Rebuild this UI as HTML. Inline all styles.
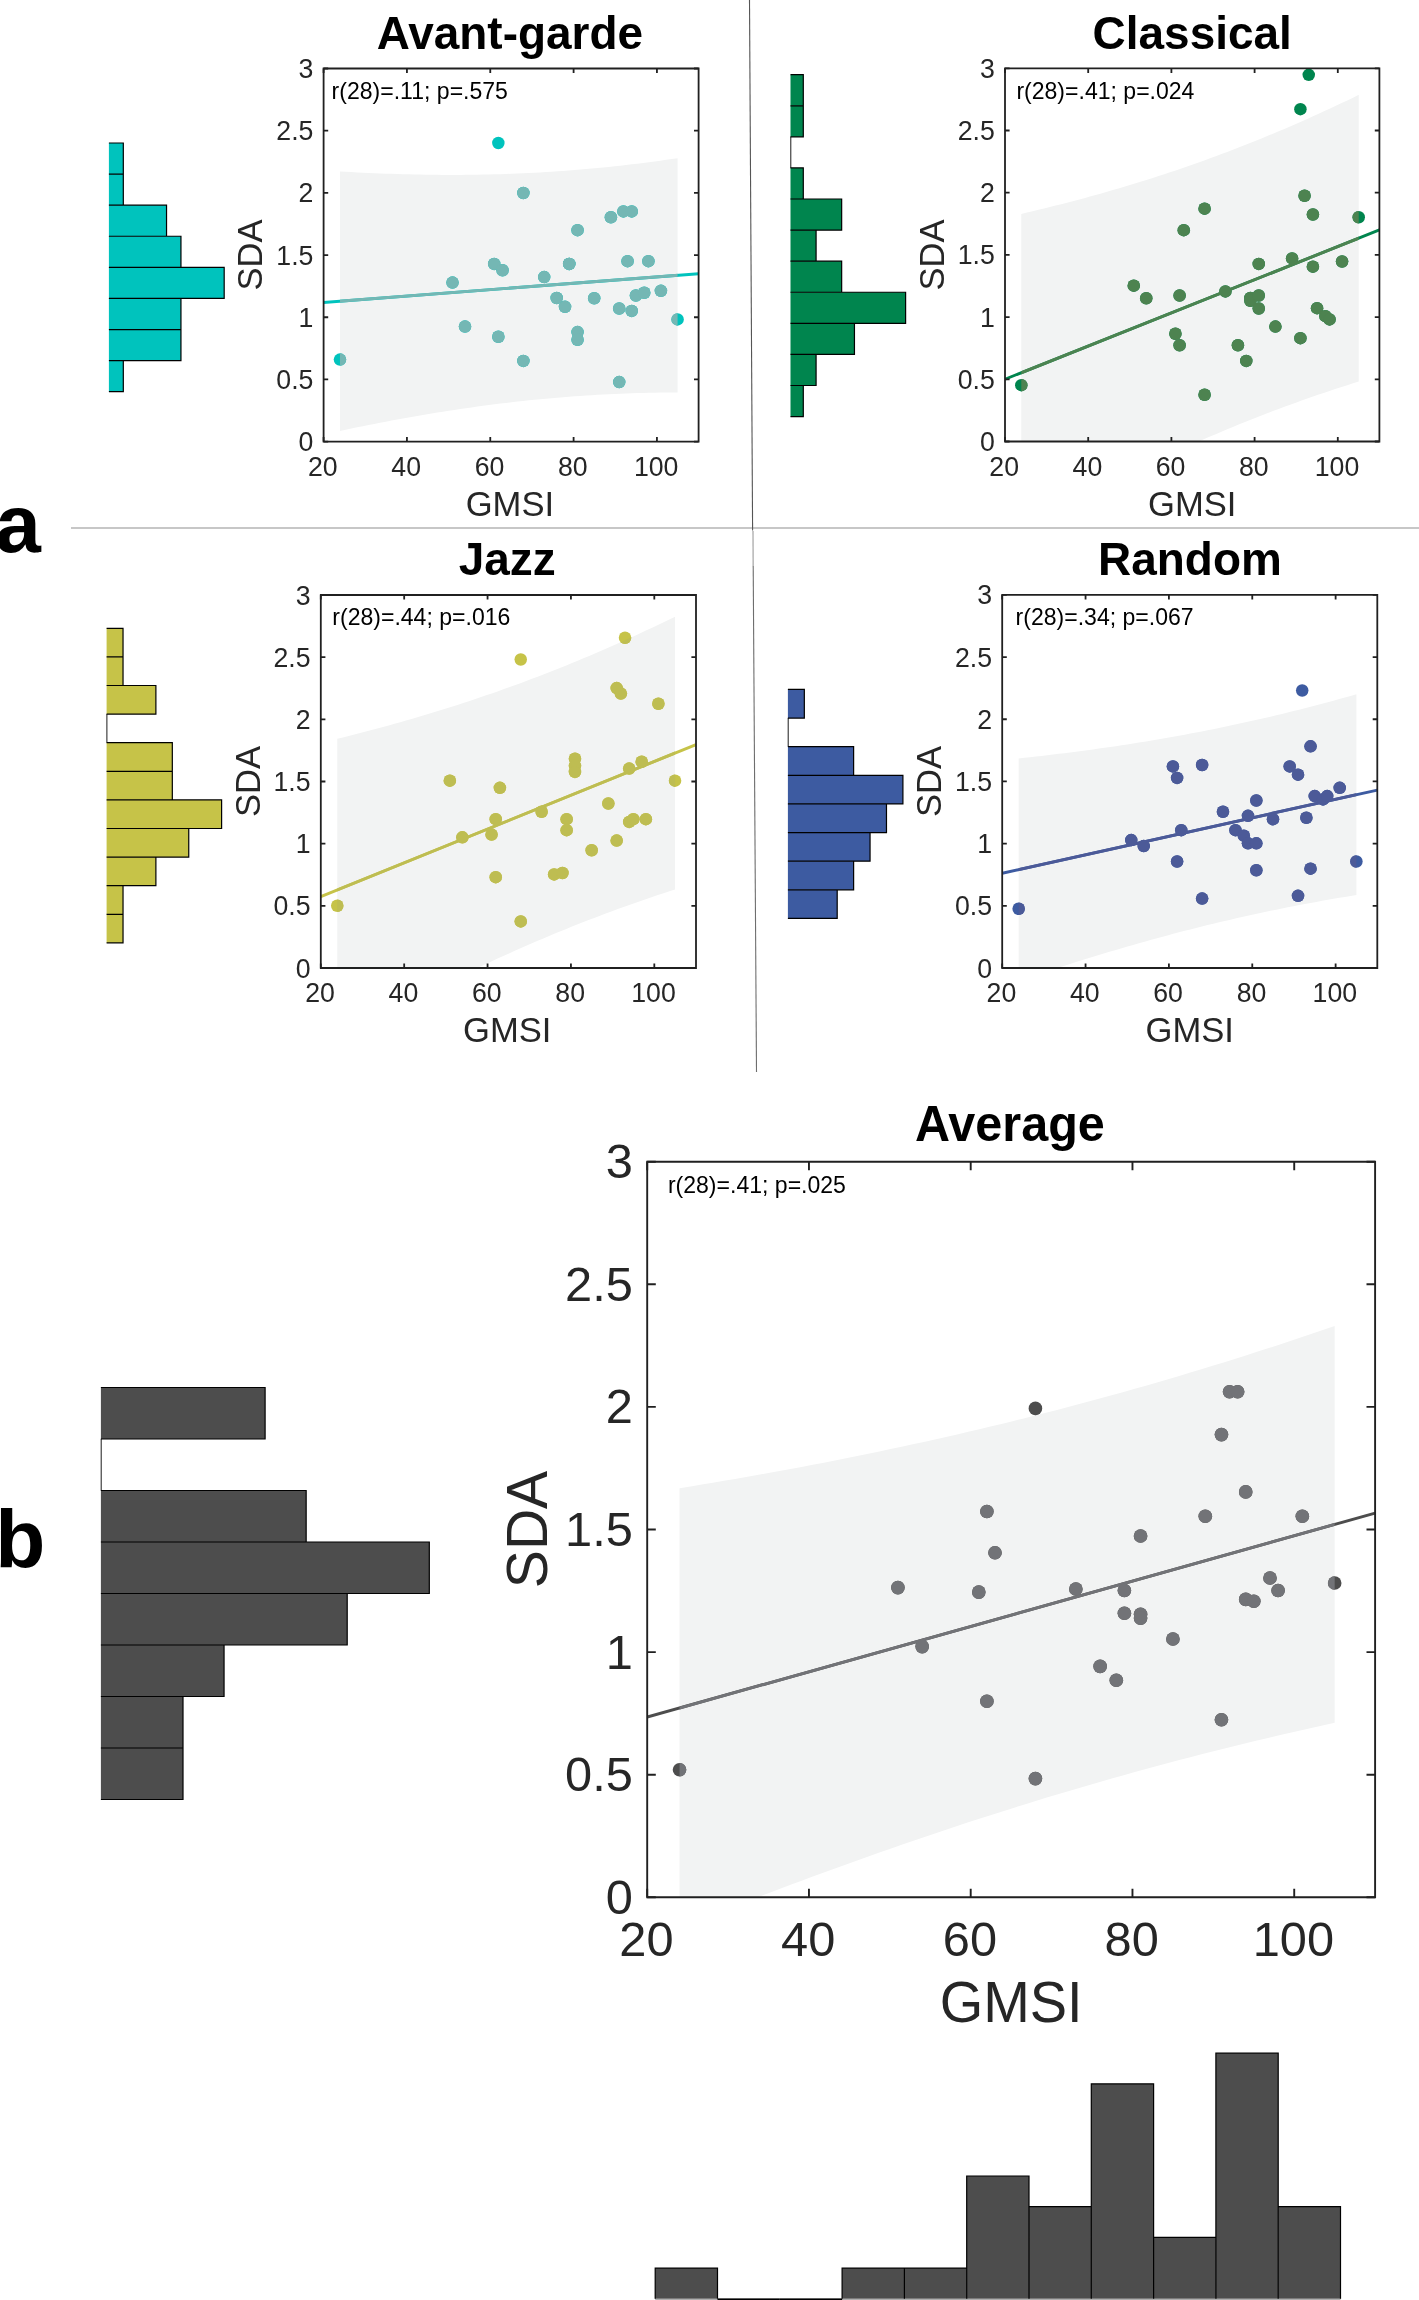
<!DOCTYPE html>
<html><head><meta charset="utf-8"><title>Figure</title>
<style>html,body{margin:0;padding:0;background:#fff;}svg{display:block;font-family:"Liberation Sans",sans-serif;will-change:transform;}</style>
</head><body>
<svg width="1419" height="2300" viewBox="0 0 1419 2300" font-family="Liberation Sans, sans-serif">
<rect width="1419" height="2300" fill="#fff"/>
<line x1="71" y1="528" x2="1419" y2="528" stroke="#b5b5b5" stroke-width="1.7"/>
<line x1="749.5" y1="0" x2="752.6" y2="530.5" stroke="#555" stroke-width="1.1"/>
<line x1="753" y1="531" x2="753.2" y2="566" stroke="#bbbbbb" stroke-width="1.6"/>
<line x1="753.2" y1="566" x2="756.5" y2="1072" stroke="#6e6e6e" stroke-width="1.1"/>
<text transform="translate(-4.7,551.9)" font-size="82" font-weight="bold" fill="#000">a</text>
<text transform="translate(-4.7,1567.3)" font-size="82" font-weight="bold" fill="#000">b</text>
<clipPath id="c1"><rect x="323.6" y="68.5" width="375" height="373.1"/></clipPath>
<clipPath id="b1"><path d="M339.96,171.43 L345.68,171.76 L351.41,172.08 L357.13,172.38 L362.85,172.67 L368.57,172.94 L374.30,173.19 L380.02,173.43 L385.74,173.65 L391.46,173.86 L397.19,174.04 L402.91,174.21 L408.63,174.37 L414.35,174.50 L420.07,174.62 L425.80,174.71 L431.52,174.79 L437.24,174.85 L442.96,174.89 L448.69,174.91 L454.41,174.91 L460.13,174.89 L465.85,174.86 L471.58,174.80 L477.30,174.72 L483.02,174.62 L488.74,174.49 L494.47,174.35 L500.19,174.19 L505.91,174.00 L511.63,173.79 L517.35,173.56 L523.08,173.31 L528.80,173.04 L534.52,172.75 L540.24,172.43 L545.97,172.09 L551.69,171.73 L557.41,171.35 L563.13,170.94 L568.86,170.51 L574.58,170.06 L580.30,169.59 L586.02,169.09 L591.75,168.58 L597.47,168.04 L603.19,167.47 L608.91,166.89 L614.63,166.28 L620.36,165.66 L626.08,165.01 L631.80,164.34 L637.52,163.64 L643.25,162.93 L648.97,162.19 L654.69,161.43 L660.41,160.66 L666.14,159.86 L671.86,159.04 L677.58,158.20 L677.58,392.40 L671.86,392.44 L666.14,392.49 L660.41,392.57 L654.69,392.67 L648.97,392.79 L643.25,392.93 L637.52,393.10 L631.80,393.28 L626.08,393.49 L620.36,393.71 L614.63,393.96 L608.91,394.23 L603.19,394.53 L597.47,394.84 L591.75,395.18 L586.02,395.54 L580.30,395.92 L574.58,396.33 L568.86,396.75 L563.13,397.20 L557.41,397.67 L551.69,398.17 L545.97,398.68 L540.24,399.22 L534.52,399.78 L528.80,400.36 L523.08,400.97 L517.35,401.59 L511.63,402.24 L505.91,402.91 L500.19,403.60 L494.47,404.32 L488.74,405.05 L483.02,405.81 L477.30,406.58 L471.58,407.38 L465.85,408.20 L460.13,409.04 L454.41,409.89 L448.69,410.77 L442.96,411.67 L437.24,412.59 L431.52,413.52 L425.80,414.48 L420.07,415.45 L414.35,416.45 L408.63,417.46 L402.91,418.49 L397.19,419.53 L391.46,420.60 L385.74,421.68 L380.02,422.78 L374.30,423.89 L368.57,425.03 L362.85,426.17 L357.13,427.34 L351.41,428.52 L345.68,429.71 L339.96,430.92 Z"/></clipPath>
<g clip-path="url(#c1)">
<path d="M339.96,171.43 L345.68,171.76 L351.41,172.08 L357.13,172.38 L362.85,172.67 L368.57,172.94 L374.30,173.19 L380.02,173.43 L385.74,173.65 L391.46,173.86 L397.19,174.04 L402.91,174.21 L408.63,174.37 L414.35,174.50 L420.07,174.62 L425.80,174.71 L431.52,174.79 L437.24,174.85 L442.96,174.89 L448.69,174.91 L454.41,174.91 L460.13,174.89 L465.85,174.86 L471.58,174.80 L477.30,174.72 L483.02,174.62 L488.74,174.49 L494.47,174.35 L500.19,174.19 L505.91,174.00 L511.63,173.79 L517.35,173.56 L523.08,173.31 L528.80,173.04 L534.52,172.75 L540.24,172.43 L545.97,172.09 L551.69,171.73 L557.41,171.35 L563.13,170.94 L568.86,170.51 L574.58,170.06 L580.30,169.59 L586.02,169.09 L591.75,168.58 L597.47,168.04 L603.19,167.47 L608.91,166.89 L614.63,166.28 L620.36,165.66 L626.08,165.01 L631.80,164.34 L637.52,163.64 L643.25,162.93 L648.97,162.19 L654.69,161.43 L660.41,160.66 L666.14,159.86 L671.86,159.04 L677.58,158.20 L677.58,392.40 L671.86,392.44 L666.14,392.49 L660.41,392.57 L654.69,392.67 L648.97,392.79 L643.25,392.93 L637.52,393.10 L631.80,393.28 L626.08,393.49 L620.36,393.71 L614.63,393.96 L608.91,394.23 L603.19,394.53 L597.47,394.84 L591.75,395.18 L586.02,395.54 L580.30,395.92 L574.58,396.33 L568.86,396.75 L563.13,397.20 L557.41,397.67 L551.69,398.17 L545.97,398.68 L540.24,399.22 L534.52,399.78 L528.80,400.36 L523.08,400.97 L517.35,401.59 L511.63,402.24 L505.91,402.91 L500.19,403.60 L494.47,404.32 L488.74,405.05 L483.02,405.81 L477.30,406.58 L471.58,407.38 L465.85,408.20 L460.13,409.04 L454.41,409.89 L448.69,410.77 L442.96,411.67 L437.24,412.59 L431.52,413.52 L425.80,414.48 L420.07,415.45 L414.35,416.45 L408.63,417.46 L402.91,418.49 L397.19,419.53 L391.46,420.60 L385.74,421.68 L380.02,422.78 L374.30,423.89 L368.57,425.03 L362.85,426.17 L357.13,427.34 L351.41,428.52 L345.68,429.71 L339.96,430.92 Z" fill="#f2f3f3"/>
<g fill="#00c3bd"><line x1="323.6" y1="302.43" x2="698.6" y2="273.69" stroke="#00c3bd" stroke-width="2.9"/><circle cx="339.96" cy="359.58" r="6.25"/><circle cx="498.35" cy="143.00" r="6.25"/><circle cx="523.36" cy="193.02" r="6.25"/><circle cx="610.89" cy="217.21" r="6.25"/><circle cx="623.40" cy="211.44" r="6.25"/><circle cx="631.73" cy="211.44" r="6.25"/><circle cx="577.55" cy="230.13" r="6.25"/><circle cx="494.18" cy="263.93" r="6.25"/><circle cx="502.52" cy="270.25" r="6.25"/><circle cx="452.50" cy="282.62" r="6.25"/><circle cx="544.20" cy="277.12" r="6.25"/><circle cx="569.21" cy="263.93" r="6.25"/><circle cx="569.21" cy="263.93" r="6.25"/><circle cx="627.56" cy="261.18" r="6.25"/><circle cx="648.40" cy="261.18" r="6.25"/><circle cx="556.70" cy="298.01" r="6.25"/><circle cx="565.04" cy="306.81" r="6.25"/><circle cx="594.22" cy="298.29" r="6.25"/><circle cx="619.23" cy="308.46" r="6.25"/><circle cx="631.73" cy="310.93" r="6.25"/><circle cx="635.90" cy="295.54" r="6.25"/><circle cx="644.24" cy="292.79" r="6.25"/><circle cx="660.91" cy="290.87" r="6.25"/><circle cx="677.58" cy="319.45" r="6.25"/><circle cx="465.01" cy="326.60" r="6.25"/><circle cx="498.35" cy="336.77" r="6.25"/><circle cx="577.55" cy="332.09" r="6.25"/><circle cx="577.55" cy="339.79" r="6.25"/><circle cx="523.36" cy="360.95" r="6.25"/><circle cx="619.23" cy="382.11" r="6.25"/></g>
<g fill="#74b7b4" clip-path="url(#b1)"><line x1="323.6" y1="302.43" x2="698.6" y2="273.69" stroke="#74b7b4" stroke-width="2.9"/><circle cx="339.96" cy="359.58" r="6.25"/><circle cx="498.35" cy="143.00" r="6.25"/><circle cx="523.36" cy="193.02" r="6.25"/><circle cx="610.89" cy="217.21" r="6.25"/><circle cx="623.40" cy="211.44" r="6.25"/><circle cx="631.73" cy="211.44" r="6.25"/><circle cx="577.55" cy="230.13" r="6.25"/><circle cx="494.18" cy="263.93" r="6.25"/><circle cx="502.52" cy="270.25" r="6.25"/><circle cx="452.50" cy="282.62" r="6.25"/><circle cx="544.20" cy="277.12" r="6.25"/><circle cx="569.21" cy="263.93" r="6.25"/><circle cx="569.21" cy="263.93" r="6.25"/><circle cx="627.56" cy="261.18" r="6.25"/><circle cx="648.40" cy="261.18" r="6.25"/><circle cx="556.70" cy="298.01" r="6.25"/><circle cx="565.04" cy="306.81" r="6.25"/><circle cx="594.22" cy="298.29" r="6.25"/><circle cx="619.23" cy="308.46" r="6.25"/><circle cx="631.73" cy="310.93" r="6.25"/><circle cx="635.90" cy="295.54" r="6.25"/><circle cx="644.24" cy="292.79" r="6.25"/><circle cx="660.91" cy="290.87" r="6.25"/><circle cx="677.58" cy="319.45" r="6.25"/><circle cx="465.01" cy="326.60" r="6.25"/><circle cx="498.35" cy="336.77" r="6.25"/><circle cx="577.55" cy="332.09" r="6.25"/><circle cx="577.55" cy="339.79" r="6.25"/><circle cx="523.36" cy="360.95" r="6.25"/><circle cx="619.23" cy="382.11" r="6.25"/></g>
</g>
<path d=" M323.60,441.6 v-4.6 M323.60,68.5 v4.6 M406.93,441.6 v-4.6 M406.93,68.5 v4.6 M490.27,441.6 v-4.6 M490.27,68.5 v4.6 M573.60,441.6 v-4.6 M573.60,68.5 v4.6 M656.93,441.6 v-4.6 M656.93,68.5 v4.6 M323.6,441.60 h4.6 M698.6,441.60 h-4.6 M323.6,379.42 h4.6 M698.6,379.42 h-4.6 M323.6,317.23 h4.6 M698.6,317.23 h-4.6 M323.6,255.05 h4.6 M698.6,255.05 h-4.6 M323.6,192.87 h4.6 M698.6,192.87 h-4.6 M323.6,130.68 h4.6 M698.6,130.68 h-4.6 M323.6,68.50 h4.6 M698.6,68.50 h-4.6" fill="none" stroke="#202020" stroke-width="1.8"/>
<path d="M323.6,68.5 H698.6 V441.6 H323.6 Z" fill="none" stroke="#202020" stroke-width="1.8" stroke-linejoin="miter"/>
<text transform="translate(313.4,451.1) scale(1,1.04)" font-size="26.7" text-anchor="end" fill="#262626">0</text>
<text transform="translate(313.4,388.92) scale(1,1.04)" font-size="26.7" text-anchor="end" fill="#262626">0.5</text>
<text transform="translate(313.4,326.73) scale(1,1.04)" font-size="26.7" text-anchor="end" fill="#262626">1</text>
<text transform="translate(313.4,264.55) scale(1,1.04)" font-size="26.7" text-anchor="end" fill="#262626">1.5</text>
<text transform="translate(313.4,202.37) scale(1,1.04)" font-size="26.7" text-anchor="end" fill="#262626">2</text>
<text transform="translate(313.4,140.18) scale(1,1.04)" font-size="26.7" text-anchor="end" fill="#262626">2.5</text>
<text transform="translate(313.4,78) scale(1,1.04)" font-size="26.7" text-anchor="end" fill="#262626">3</text>
<text transform="translate(322.8,476) scale(1,1.04)" font-size="26.7" text-anchor="middle" fill="#262626">20</text>
<text transform="translate(406.13,476) scale(1,1.04)" font-size="26.7" text-anchor="middle" fill="#262626">40</text>
<text transform="translate(489.47,476) scale(1,1.04)" font-size="26.7" text-anchor="middle" fill="#262626">60</text>
<text transform="translate(572.8,476) scale(1,1.04)" font-size="26.7" text-anchor="middle" fill="#262626">80</text>
<text transform="translate(656.13,476) scale(1,1.04)" font-size="26.7" text-anchor="middle" fill="#262626">100</text>
<text transform="translate(509.9,516) scale(1.03,1.04)" font-size="33.6" text-anchor="middle" fill="#262626">GMSI</text>
<text transform="translate(262.4,255.05) rotate(-90) scale(1.03,1.04)" font-size="33.6" text-anchor="middle" fill="#262626">SDA</text>
<text transform="translate(509.9,48.8) scale(1.03,1.04)" font-size="44.6" font-weight="bold" text-anchor="middle" fill="#000">Avant-garde</text>
<text transform="translate(331.6,98.9) scale(1.02,1.04)" font-size="22.6" fill="#000">r(28)=.11; p=.575</text>
<clipPath id="c2"><rect x="1005" y="68.3" width="374.4" height="373.2"/></clipPath>
<clipPath id="b2"><path d="M1021.28,213.89 L1027.00,212.56 L1032.71,211.20 L1038.43,209.83 L1044.15,208.44 L1049.87,207.02 L1055.59,205.59 L1061.31,204.14 L1067.03,202.67 L1072.75,201.18 L1078.47,199.66 L1084.19,198.13 L1089.91,196.57 L1095.63,194.99 L1101.35,193.39 L1107.07,191.77 L1112.79,190.12 L1118.51,188.45 L1124.23,186.76 L1129.95,185.04 L1135.67,183.30 L1141.39,181.53 L1147.11,179.74 L1152.83,177.93 L1158.55,176.09 L1164.27,174.22 L1169.99,172.33 L1175.71,170.41 L1181.43,168.47 L1187.15,166.50 L1192.87,164.50 L1198.58,162.48 L1204.30,160.43 L1210.02,158.35 L1215.74,156.25 L1221.46,154.12 L1227.18,151.96 L1232.90,149.77 L1238.62,147.56 L1244.34,145.32 L1250.06,143.05 L1255.78,140.76 L1261.50,138.44 L1267.22,136.09 L1272.94,133.71 L1278.66,131.31 L1284.38,128.88 L1290.10,126.42 L1295.82,123.93 L1301.54,121.42 L1307.26,118.88 L1312.98,116.32 L1318.70,113.73 L1324.42,111.11 L1330.14,108.47 L1335.86,105.80 L1341.58,103.10 L1347.30,100.38 L1353.02,97.64 L1358.74,94.87 L1358.74,381.55 L1353.02,383.34 L1347.30,385.15 L1341.58,386.99 L1335.86,388.86 L1330.14,390.75 L1324.42,392.66 L1318.70,394.60 L1312.98,396.57 L1307.26,398.57 L1301.54,400.59 L1295.82,402.64 L1290.10,404.71 L1284.38,406.81 L1278.66,408.94 L1272.94,411.10 L1267.22,413.28 L1261.50,415.49 L1255.78,417.73 L1250.06,419.99 L1244.34,422.29 L1238.62,424.61 L1232.90,426.95 L1227.18,429.33 L1221.46,431.73 L1215.74,434.16 L1210.02,436.61 L1204.30,439.10 L1198.58,441.61 L1192.87,444.14 L1187.15,446.71 L1181.43,449.30 L1175.71,451.91 L1169.99,454.55 L1164.27,457.22 L1158.55,459.91 L1152.83,462.63 L1147.11,465.38 L1141.39,468.15 L1135.67,470.94 L1129.95,473.76 L1124.23,476.60 L1118.51,479.46 L1112.79,482.35 L1107.07,485.27 L1101.35,488.20 L1095.63,491.16 L1089.91,494.14 L1084.19,497.14 L1078.47,500.17 L1072.75,503.22 L1067.03,506.28 L1061.31,509.37 L1055.59,512.48 L1049.87,515.61 L1044.15,518.75 L1038.43,521.92 L1032.71,525.11 L1027.00,528.31 L1021.28,531.54 Z"/></clipPath>
<g clip-path="url(#c2)">
<path d="M1021.28,213.89 L1027.00,212.56 L1032.71,211.20 L1038.43,209.83 L1044.15,208.44 L1049.87,207.02 L1055.59,205.59 L1061.31,204.14 L1067.03,202.67 L1072.75,201.18 L1078.47,199.66 L1084.19,198.13 L1089.91,196.57 L1095.63,194.99 L1101.35,193.39 L1107.07,191.77 L1112.79,190.12 L1118.51,188.45 L1124.23,186.76 L1129.95,185.04 L1135.67,183.30 L1141.39,181.53 L1147.11,179.74 L1152.83,177.93 L1158.55,176.09 L1164.27,174.22 L1169.99,172.33 L1175.71,170.41 L1181.43,168.47 L1187.15,166.50 L1192.87,164.50 L1198.58,162.48 L1204.30,160.43 L1210.02,158.35 L1215.74,156.25 L1221.46,154.12 L1227.18,151.96 L1232.90,149.77 L1238.62,147.56 L1244.34,145.32 L1250.06,143.05 L1255.78,140.76 L1261.50,138.44 L1267.22,136.09 L1272.94,133.71 L1278.66,131.31 L1284.38,128.88 L1290.10,126.42 L1295.82,123.93 L1301.54,121.42 L1307.26,118.88 L1312.98,116.32 L1318.70,113.73 L1324.42,111.11 L1330.14,108.47 L1335.86,105.80 L1341.58,103.10 L1347.30,100.38 L1353.02,97.64 L1358.74,94.87 L1358.74,381.55 L1353.02,383.34 L1347.30,385.15 L1341.58,386.99 L1335.86,388.86 L1330.14,390.75 L1324.42,392.66 L1318.70,394.60 L1312.98,396.57 L1307.26,398.57 L1301.54,400.59 L1295.82,402.64 L1290.10,404.71 L1284.38,406.81 L1278.66,408.94 L1272.94,411.10 L1267.22,413.28 L1261.50,415.49 L1255.78,417.73 L1250.06,419.99 L1244.34,422.29 L1238.62,424.61 L1232.90,426.95 L1227.18,429.33 L1221.46,431.73 L1215.74,434.16 L1210.02,436.61 L1204.30,439.10 L1198.58,441.61 L1192.87,444.14 L1187.15,446.71 L1181.43,449.30 L1175.71,451.91 L1169.99,454.55 L1164.27,457.22 L1158.55,459.91 L1152.83,462.63 L1147.11,465.38 L1141.39,468.15 L1135.67,470.94 L1129.95,473.76 L1124.23,476.60 L1118.51,479.46 L1112.79,482.35 L1107.07,485.27 L1101.35,488.20 L1095.63,491.16 L1089.91,494.14 L1084.19,497.14 L1078.47,500.17 L1072.75,503.22 L1067.03,506.28 L1061.31,509.37 L1055.59,512.48 L1049.87,515.61 L1044.15,518.75 L1038.43,521.92 L1032.71,525.11 L1027.00,528.31 L1021.28,531.54 Z" fill="#f2f3f3"/>
<g fill="#00854e"><line x1="1005" y1="379.20" x2="1379.4" y2="229.97" stroke="#00854e" stroke-width="2.9"/><circle cx="1021.28" cy="385.14" r="6.25"/><circle cx="1308.74" cy="74.84" r="6.25"/><circle cx="1300.41" cy="109.20" r="6.25"/><circle cx="1304.57" cy="195.77" r="6.25"/><circle cx="1312.91" cy="214.46" r="6.25"/><circle cx="1358.74" cy="217.21" r="6.25"/><circle cx="1204.59" cy="208.69" r="6.25"/><circle cx="1183.76" cy="230.13" r="6.25"/><circle cx="1292.08" cy="258.44" r="6.25"/><circle cx="1258.75" cy="263.93" r="6.25"/><circle cx="1312.91" cy="266.68" r="6.25"/><circle cx="1342.07" cy="261.46" r="6.25"/><circle cx="1133.76" cy="285.64" r="6.25"/><circle cx="1146.26" cy="298.29" r="6.25"/><circle cx="1179.59" cy="295.54" r="6.25"/><circle cx="1225.42" cy="291.42" r="6.25"/><circle cx="1250.41" cy="298.01" r="6.25"/><circle cx="1250.41" cy="300.76" r="6.25"/><circle cx="1258.75" cy="295.54" r="6.25"/><circle cx="1258.75" cy="308.46" r="6.25"/><circle cx="1317.07" cy="308.18" r="6.25"/><circle cx="1325.41" cy="316.15" r="6.25"/><circle cx="1329.57" cy="319.45" r="6.25"/><circle cx="1275.41" cy="326.60" r="6.25"/><circle cx="1175.42" cy="333.74" r="6.25"/><circle cx="1179.59" cy="345.29" r="6.25"/><circle cx="1237.92" cy="345.29" r="6.25"/><circle cx="1300.41" cy="338.14" r="6.25"/><circle cx="1246.25" cy="360.95" r="6.25"/><circle cx="1204.59" cy="394.76" r="6.25"/></g>
<g fill="#4d8350" clip-path="url(#b2)"><line x1="1005" y1="379.20" x2="1379.4" y2="229.97" stroke="#4d8350" stroke-width="2.9"/><circle cx="1021.28" cy="385.14" r="6.25"/><circle cx="1308.74" cy="74.84" r="6.25"/><circle cx="1300.41" cy="109.20" r="6.25"/><circle cx="1304.57" cy="195.77" r="6.25"/><circle cx="1312.91" cy="214.46" r="6.25"/><circle cx="1358.74" cy="217.21" r="6.25"/><circle cx="1204.59" cy="208.69" r="6.25"/><circle cx="1183.76" cy="230.13" r="6.25"/><circle cx="1292.08" cy="258.44" r="6.25"/><circle cx="1258.75" cy="263.93" r="6.25"/><circle cx="1312.91" cy="266.68" r="6.25"/><circle cx="1342.07" cy="261.46" r="6.25"/><circle cx="1133.76" cy="285.64" r="6.25"/><circle cx="1146.26" cy="298.29" r="6.25"/><circle cx="1179.59" cy="295.54" r="6.25"/><circle cx="1225.42" cy="291.42" r="6.25"/><circle cx="1250.41" cy="298.01" r="6.25"/><circle cx="1250.41" cy="300.76" r="6.25"/><circle cx="1258.75" cy="295.54" r="6.25"/><circle cx="1258.75" cy="308.46" r="6.25"/><circle cx="1317.07" cy="308.18" r="6.25"/><circle cx="1325.41" cy="316.15" r="6.25"/><circle cx="1329.57" cy="319.45" r="6.25"/><circle cx="1275.41" cy="326.60" r="6.25"/><circle cx="1175.42" cy="333.74" r="6.25"/><circle cx="1179.59" cy="345.29" r="6.25"/><circle cx="1237.92" cy="345.29" r="6.25"/><circle cx="1300.41" cy="338.14" r="6.25"/><circle cx="1246.25" cy="360.95" r="6.25"/><circle cx="1204.59" cy="394.76" r="6.25"/></g>
</g>
<path d=" M1005.00,441.5 v-4.6 M1005.00,68.3 v4.6 M1088.20,441.5 v-4.6 M1088.20,68.3 v4.6 M1171.40,441.5 v-4.6 M1171.40,68.3 v4.6 M1254.60,441.5 v-4.6 M1254.60,68.3 v4.6 M1337.80,441.5 v-4.6 M1337.80,68.3 v4.6 M1005,441.50 h4.6 M1379.4,441.50 h-4.6 M1005,379.30 h4.6 M1379.4,379.30 h-4.6 M1005,317.10 h4.6 M1379.4,317.10 h-4.6 M1005,254.90 h4.6 M1379.4,254.90 h-4.6 M1005,192.70 h4.6 M1379.4,192.70 h-4.6 M1005,130.50 h4.6 M1379.4,130.50 h-4.6 M1005,68.30 h4.6 M1379.4,68.30 h-4.6" fill="none" stroke="#202020" stroke-width="1.8"/>
<path d="M1005,68.3 H1379.4 V441.5 H1005 Z" fill="none" stroke="#202020" stroke-width="1.8" stroke-linejoin="miter"/>
<text transform="translate(994.8,451) scale(1,1.04)" font-size="26.7" text-anchor="end" fill="#262626">0</text>
<text transform="translate(994.8,388.8) scale(1,1.04)" font-size="26.7" text-anchor="end" fill="#262626">0.5</text>
<text transform="translate(994.8,326.6) scale(1,1.04)" font-size="26.7" text-anchor="end" fill="#262626">1</text>
<text transform="translate(994.8,264.4) scale(1,1.04)" font-size="26.7" text-anchor="end" fill="#262626">1.5</text>
<text transform="translate(994.8,202.2) scale(1,1.04)" font-size="26.7" text-anchor="end" fill="#262626">2</text>
<text transform="translate(994.8,140) scale(1,1.04)" font-size="26.7" text-anchor="end" fill="#262626">2.5</text>
<text transform="translate(994.8,77.8) scale(1,1.04)" font-size="26.7" text-anchor="end" fill="#262626">3</text>
<text transform="translate(1004.2,475.9) scale(1,1.04)" font-size="26.7" text-anchor="middle" fill="#262626">20</text>
<text transform="translate(1087.4,475.9) scale(1,1.04)" font-size="26.7" text-anchor="middle" fill="#262626">40</text>
<text transform="translate(1170.6,475.9) scale(1,1.04)" font-size="26.7" text-anchor="middle" fill="#262626">60</text>
<text transform="translate(1253.8,475.9) scale(1,1.04)" font-size="26.7" text-anchor="middle" fill="#262626">80</text>
<text transform="translate(1337,475.9) scale(1,1.04)" font-size="26.7" text-anchor="middle" fill="#262626">100</text>
<text transform="translate(1192.2,515.9) scale(1.03,1.04)" font-size="33.6" text-anchor="middle" fill="#262626">GMSI</text>
<text transform="translate(943.8,254.9) rotate(-90) scale(1.03,1.04)" font-size="33.6" text-anchor="middle" fill="#262626">SDA</text>
<text transform="translate(1192.2,48.6) scale(1.03,1.04)" font-size="44.6" font-weight="bold" text-anchor="middle" fill="#000">Classical</text>
<text transform="translate(1016.4,98.9) scale(1.02,1.04)" font-size="22.6" fill="#000">r(28)=.41; p=.024</text>
<clipPath id="c3"><rect x="320.8" y="595" width="375.2" height="373"/></clipPath>
<clipPath id="b3"><path d="M337.24,738.84 L342.96,737.42 L348.69,735.98 L354.42,734.52 L360.14,733.05 L365.87,731.55 L371.59,730.04 L377.32,728.51 L383.05,726.95 L388.77,725.38 L394.50,723.79 L400.22,722.18 L405.95,720.55 L411.67,718.89 L417.40,717.22 L423.13,715.52 L428.85,713.81 L434.58,712.07 L440.30,710.30 L446.03,708.52 L451.76,706.71 L457.48,704.88 L463.21,703.02 L468.93,701.14 L474.66,699.24 L480.39,697.31 L486.11,695.36 L491.84,693.39 L497.56,691.39 L503.29,689.36 L509.02,687.31 L514.74,685.23 L520.47,683.13 L526.19,681.01 L531.92,678.85 L537.65,676.67 L543.37,674.47 L549.10,672.24 L554.82,669.98 L560.55,667.70 L566.28,665.39 L572.00,663.06 L577.73,660.70 L583.45,658.31 L589.18,655.90 L594.91,653.46 L600.63,651.00 L606.36,648.51 L612.08,645.99 L617.81,643.45 L623.54,640.89 L629.26,638.29 L634.99,635.68 L640.71,633.04 L646.44,630.37 L652.17,627.68 L657.89,624.96 L663.62,622.22 L669.34,619.46 L675.07,616.67 L675.07,889.46 L669.34,891.31 L663.62,893.19 L657.89,895.09 L652.17,897.01 L646.44,898.96 L640.71,900.94 L634.99,902.94 L629.26,904.96 L623.54,907.01 L617.81,909.08 L612.08,911.18 L606.36,913.31 L600.63,915.46 L594.91,917.64 L589.18,919.84 L583.45,922.07 L577.73,924.32 L572.00,926.60 L566.28,928.91 L560.55,931.24 L554.82,933.60 L549.10,935.98 L543.37,938.39 L537.65,940.83 L531.92,943.29 L526.19,945.78 L520.47,948.29 L514.74,950.83 L509.02,953.40 L503.29,955.99 L497.56,958.60 L491.84,961.24 L486.11,963.91 L480.39,966.60 L474.66,969.31 L468.93,972.05 L463.21,974.81 L457.48,977.60 L451.76,980.40 L446.03,983.24 L440.30,986.09 L434.58,988.97 L428.85,991.87 L423.13,994.79 L417.40,997.74 L411.67,1000.70 L405.95,1003.69 L400.22,1006.70 L394.50,1009.73 L388.77,1012.78 L383.05,1015.85 L377.32,1018.94 L371.59,1022.05 L365.87,1025.17 L360.14,1028.32 L354.42,1031.48 L348.69,1034.67 L342.96,1037.87 L337.24,1041.09 Z"/></clipPath>
<g clip-path="url(#c3)">
<path d="M337.24,738.84 L342.96,737.42 L348.69,735.98 L354.42,734.52 L360.14,733.05 L365.87,731.55 L371.59,730.04 L377.32,728.51 L383.05,726.95 L388.77,725.38 L394.50,723.79 L400.22,722.18 L405.95,720.55 L411.67,718.89 L417.40,717.22 L423.13,715.52 L428.85,713.81 L434.58,712.07 L440.30,710.30 L446.03,708.52 L451.76,706.71 L457.48,704.88 L463.21,703.02 L468.93,701.14 L474.66,699.24 L480.39,697.31 L486.11,695.36 L491.84,693.39 L497.56,691.39 L503.29,689.36 L509.02,687.31 L514.74,685.23 L520.47,683.13 L526.19,681.01 L531.92,678.85 L537.65,676.67 L543.37,674.47 L549.10,672.24 L554.82,669.98 L560.55,667.70 L566.28,665.39 L572.00,663.06 L577.73,660.70 L583.45,658.31 L589.18,655.90 L594.91,653.46 L600.63,651.00 L606.36,648.51 L612.08,645.99 L617.81,643.45 L623.54,640.89 L629.26,638.29 L634.99,635.68 L640.71,633.04 L646.44,630.37 L652.17,627.68 L657.89,624.96 L663.62,622.22 L669.34,619.46 L675.07,616.67 L675.07,889.46 L669.34,891.31 L663.62,893.19 L657.89,895.09 L652.17,897.01 L646.44,898.96 L640.71,900.94 L634.99,902.94 L629.26,904.96 L623.54,907.01 L617.81,909.08 L612.08,911.18 L606.36,913.31 L600.63,915.46 L594.91,917.64 L589.18,919.84 L583.45,922.07 L577.73,924.32 L572.00,926.60 L566.28,928.91 L560.55,931.24 L554.82,933.60 L549.10,935.98 L543.37,938.39 L537.65,940.83 L531.92,943.29 L526.19,945.78 L520.47,948.29 L514.74,950.83 L509.02,953.40 L503.29,955.99 L497.56,958.60 L491.84,961.24 L486.11,963.91 L480.39,966.60 L474.66,969.31 L468.93,972.05 L463.21,974.81 L457.48,977.60 L451.76,980.40 L446.03,983.24 L440.30,986.09 L434.58,988.97 L428.85,991.87 L423.13,994.79 L417.40,997.74 L411.67,1000.70 L405.95,1003.69 L400.22,1006.70 L394.50,1009.73 L388.77,1012.78 L383.05,1015.85 L377.32,1018.94 L371.59,1022.05 L365.87,1025.17 L360.14,1028.32 L354.42,1031.48 L348.69,1034.67 L342.96,1037.87 L337.24,1041.09 Z" fill="#f2f3f3"/>
<g fill="#c6c348"><line x1="320.8" y1="896.62" x2="696" y2="744.58" stroke="#c6c348" stroke-width="2.9"/><circle cx="337.24" cy="905.74" r="6.25"/><circle cx="449.85" cy="780.69" r="6.25"/><circle cx="462.36" cy="837.30" r="6.25"/><circle cx="491.56" cy="834.56" r="6.25"/><circle cx="495.73" cy="819.16" r="6.25"/><circle cx="495.73" cy="877.16" r="6.25"/><circle cx="499.90" cy="787.83" r="6.25"/><circle cx="520.75" cy="659.48" r="6.25"/><circle cx="520.75" cy="921.41" r="6.25"/><circle cx="541.61" cy="811.74" r="6.25"/><circle cx="554.12" cy="874.41" r="6.25"/><circle cx="562.46" cy="873.03" r="6.25"/><circle cx="566.63" cy="819.16" r="6.25"/><circle cx="566.63" cy="830.16" r="6.25"/><circle cx="574.97" cy="758.70" r="6.25"/><circle cx="574.97" cy="765.85" r="6.25"/><circle cx="574.97" cy="771.89" r="6.25"/><circle cx="591.65" cy="850.22" r="6.25"/><circle cx="608.34" cy="803.50" r="6.25"/><circle cx="616.68" cy="688.07" r="6.25"/><circle cx="616.68" cy="840.60" r="6.25"/><circle cx="620.85" cy="693.56" r="6.25"/><circle cx="625.02" cy="637.77" r="6.25"/><circle cx="629.19" cy="768.59" r="6.25"/><circle cx="629.19" cy="821.91" r="6.25"/><circle cx="633.36" cy="819.16" r="6.25"/><circle cx="641.70" cy="761.72" r="6.25"/><circle cx="645.87" cy="819.16" r="6.25"/><circle cx="658.39" cy="703.73" r="6.25"/><circle cx="675.07" cy="780.69" r="6.25"/></g>
<g fill="#bebd52" clip-path="url(#b3)"><line x1="320.8" y1="896.62" x2="696" y2="744.58" stroke="#bebd52" stroke-width="2.9"/><circle cx="337.24" cy="905.74" r="6.25"/><circle cx="449.85" cy="780.69" r="6.25"/><circle cx="462.36" cy="837.30" r="6.25"/><circle cx="491.56" cy="834.56" r="6.25"/><circle cx="495.73" cy="819.16" r="6.25"/><circle cx="495.73" cy="877.16" r="6.25"/><circle cx="499.90" cy="787.83" r="6.25"/><circle cx="520.75" cy="659.48" r="6.25"/><circle cx="520.75" cy="921.41" r="6.25"/><circle cx="541.61" cy="811.74" r="6.25"/><circle cx="554.12" cy="874.41" r="6.25"/><circle cx="562.46" cy="873.03" r="6.25"/><circle cx="566.63" cy="819.16" r="6.25"/><circle cx="566.63" cy="830.16" r="6.25"/><circle cx="574.97" cy="758.70" r="6.25"/><circle cx="574.97" cy="765.85" r="6.25"/><circle cx="574.97" cy="771.89" r="6.25"/><circle cx="591.65" cy="850.22" r="6.25"/><circle cx="608.34" cy="803.50" r="6.25"/><circle cx="616.68" cy="688.07" r="6.25"/><circle cx="616.68" cy="840.60" r="6.25"/><circle cx="620.85" cy="693.56" r="6.25"/><circle cx="625.02" cy="637.77" r="6.25"/><circle cx="629.19" cy="768.59" r="6.25"/><circle cx="629.19" cy="821.91" r="6.25"/><circle cx="633.36" cy="819.16" r="6.25"/><circle cx="641.70" cy="761.72" r="6.25"/><circle cx="645.87" cy="819.16" r="6.25"/><circle cx="658.39" cy="703.73" r="6.25"/><circle cx="675.07" cy="780.69" r="6.25"/></g>
</g>
<path d=" M320.80,968 v-4.6 M320.80,595 v4.6 M404.18,968 v-4.6 M404.18,595 v4.6 M487.56,968 v-4.6 M487.56,595 v4.6 M570.93,968 v-4.6 M570.93,595 v4.6 M654.31,968 v-4.6 M654.31,595 v4.6 M320.8,968.00 h4.6 M696,968.00 h-4.6 M320.8,905.83 h4.6 M696,905.83 h-4.6 M320.8,843.67 h4.6 M696,843.67 h-4.6 M320.8,781.50 h4.6 M696,781.50 h-4.6 M320.8,719.33 h4.6 M696,719.33 h-4.6 M320.8,657.17 h4.6 M696,657.17 h-4.6 M320.8,595.00 h4.6 M696,595.00 h-4.6" fill="none" stroke="#202020" stroke-width="1.8"/>
<path d="M320.8,595 H696 V968 H320.8 Z" fill="none" stroke="#202020" stroke-width="1.8" stroke-linejoin="miter"/>
<text transform="translate(310.6,977.5) scale(1,1.04)" font-size="26.7" text-anchor="end" fill="#262626">0</text>
<text transform="translate(310.6,915.33) scale(1,1.04)" font-size="26.7" text-anchor="end" fill="#262626">0.5</text>
<text transform="translate(310.6,853.17) scale(1,1.04)" font-size="26.7" text-anchor="end" fill="#262626">1</text>
<text transform="translate(310.6,791) scale(1,1.04)" font-size="26.7" text-anchor="end" fill="#262626">1.5</text>
<text transform="translate(310.6,728.83) scale(1,1.04)" font-size="26.7" text-anchor="end" fill="#262626">2</text>
<text transform="translate(310.6,666.67) scale(1,1.04)" font-size="26.7" text-anchor="end" fill="#262626">2.5</text>
<text transform="translate(310.6,604.5) scale(1,1.04)" font-size="26.7" text-anchor="end" fill="#262626">3</text>
<text transform="translate(320,1002.4) scale(1,1.04)" font-size="26.7" text-anchor="middle" fill="#262626">20</text>
<text transform="translate(403.38,1002.4) scale(1,1.04)" font-size="26.7" text-anchor="middle" fill="#262626">40</text>
<text transform="translate(486.76,1002.4) scale(1,1.04)" font-size="26.7" text-anchor="middle" fill="#262626">60</text>
<text transform="translate(570.13,1002.4) scale(1,1.04)" font-size="26.7" text-anchor="middle" fill="#262626">80</text>
<text transform="translate(653.51,1002.4) scale(1,1.04)" font-size="26.7" text-anchor="middle" fill="#262626">100</text>
<text transform="translate(507.2,1042.4) scale(1.03,1.04)" font-size="33.6" text-anchor="middle" fill="#262626">GMSI</text>
<text transform="translate(259.6,781.5) rotate(-90) scale(1.03,1.04)" font-size="33.6" text-anchor="middle" fill="#262626">SDA</text>
<text transform="translate(507.2,575.3) scale(1.03,1.04)" font-size="44.6" font-weight="bold" text-anchor="middle" fill="#000">Jazz</text>
<text transform="translate(332.3,624.5) scale(1.02,1.04)" font-size="22.6" fill="#000">r(28)=.44; p=.016</text>
<clipPath id="c4"><rect x="1002.2" y="594.9" width="375.1" height="373.1"/></clipPath>
<clipPath id="b4"><path d="M1018.65,758.41 L1024.38,757.80 L1030.10,757.18 L1035.83,756.54 L1041.55,755.89 L1047.27,755.23 L1053.00,754.56 L1058.72,753.87 L1064.45,753.16 L1070.17,752.44 L1075.90,751.71 L1081.62,750.96 L1087.35,750.20 L1093.07,749.42 L1098.80,748.62 L1104.52,747.81 L1110.25,746.99 L1115.97,746.14 L1121.69,745.28 L1127.42,744.41 L1133.14,743.51 L1138.87,742.60 L1144.59,741.68 L1150.32,740.73 L1156.04,739.77 L1161.77,738.79 L1167.49,737.79 L1173.22,736.77 L1178.94,735.74 L1184.67,734.69 L1190.39,733.61 L1196.11,732.52 L1201.84,731.42 L1207.56,730.29 L1213.29,729.14 L1219.01,727.98 L1224.74,726.79 L1230.46,725.59 L1236.19,724.37 L1241.91,723.12 L1247.64,721.86 L1253.36,720.58 L1259.08,719.28 L1264.81,717.97 L1270.53,716.63 L1276.26,715.27 L1281.98,713.90 L1287.71,712.50 L1293.43,711.09 L1299.16,709.66 L1304.88,708.20 L1310.61,706.74 L1316.33,705.25 L1322.06,703.74 L1327.78,702.22 L1333.50,700.67 L1339.23,699.11 L1344.95,697.53 L1350.68,695.94 L1356.40,694.33 L1356.40,895.04 L1350.68,895.96 L1344.95,896.91 L1339.23,897.87 L1333.50,898.85 L1327.78,899.85 L1322.06,900.86 L1316.33,901.89 L1310.61,902.95 L1304.88,904.02 L1299.16,905.10 L1293.43,906.21 L1287.71,907.34 L1281.98,908.48 L1276.26,909.65 L1270.53,910.83 L1264.81,912.03 L1259.08,913.25 L1253.36,914.49 L1247.64,915.75 L1241.91,917.03 L1236.19,918.33 L1230.46,919.65 L1224.74,920.98 L1219.01,922.34 L1213.29,923.71 L1207.56,925.11 L1201.84,926.52 L1196.11,927.95 L1190.39,929.40 L1184.67,930.87 L1178.94,932.35 L1173.22,933.86 L1167.49,935.38 L1161.77,936.92 L1156.04,938.48 L1150.32,940.06 L1144.59,941.65 L1138.87,943.27 L1133.14,944.90 L1127.42,946.54 L1121.69,948.21 L1115.97,949.89 L1110.25,951.58 L1104.52,953.30 L1098.80,955.03 L1093.07,956.77 L1087.35,958.53 L1081.62,960.31 L1075.90,962.10 L1070.17,963.90 L1064.45,965.73 L1058.72,967.56 L1053.00,969.41 L1047.27,971.27 L1041.55,973.15 L1035.83,975.04 L1030.10,976.95 L1024.38,978.87 L1018.65,980.80 Z"/></clipPath>
<g clip-path="url(#c4)">
<path d="M1018.65,758.41 L1024.38,757.80 L1030.10,757.18 L1035.83,756.54 L1041.55,755.89 L1047.27,755.23 L1053.00,754.56 L1058.72,753.87 L1064.45,753.16 L1070.17,752.44 L1075.90,751.71 L1081.62,750.96 L1087.35,750.20 L1093.07,749.42 L1098.80,748.62 L1104.52,747.81 L1110.25,746.99 L1115.97,746.14 L1121.69,745.28 L1127.42,744.41 L1133.14,743.51 L1138.87,742.60 L1144.59,741.68 L1150.32,740.73 L1156.04,739.77 L1161.77,738.79 L1167.49,737.79 L1173.22,736.77 L1178.94,735.74 L1184.67,734.69 L1190.39,733.61 L1196.11,732.52 L1201.84,731.42 L1207.56,730.29 L1213.29,729.14 L1219.01,727.98 L1224.74,726.79 L1230.46,725.59 L1236.19,724.37 L1241.91,723.12 L1247.64,721.86 L1253.36,720.58 L1259.08,719.28 L1264.81,717.97 L1270.53,716.63 L1276.26,715.27 L1281.98,713.90 L1287.71,712.50 L1293.43,711.09 L1299.16,709.66 L1304.88,708.20 L1310.61,706.74 L1316.33,705.25 L1322.06,703.74 L1327.78,702.22 L1333.50,700.67 L1339.23,699.11 L1344.95,697.53 L1350.68,695.94 L1356.40,694.33 L1356.40,895.04 L1350.68,895.96 L1344.95,896.91 L1339.23,897.87 L1333.50,898.85 L1327.78,899.85 L1322.06,900.86 L1316.33,901.89 L1310.61,902.95 L1304.88,904.02 L1299.16,905.10 L1293.43,906.21 L1287.71,907.34 L1281.98,908.48 L1276.26,909.65 L1270.53,910.83 L1264.81,912.03 L1259.08,913.25 L1253.36,914.49 L1247.64,915.75 L1241.91,917.03 L1236.19,918.33 L1230.46,919.65 L1224.74,920.98 L1219.01,922.34 L1213.29,923.71 L1207.56,925.11 L1201.84,926.52 L1196.11,927.95 L1190.39,929.40 L1184.67,930.87 L1178.94,932.35 L1173.22,933.86 L1167.49,935.38 L1161.77,936.92 L1156.04,938.48 L1150.32,940.06 L1144.59,941.65 L1138.87,943.27 L1133.14,944.90 L1127.42,946.54 L1121.69,948.21 L1115.97,949.89 L1110.25,951.58 L1104.52,953.30 L1098.80,955.03 L1093.07,956.77 L1087.35,958.53 L1081.62,960.31 L1075.90,962.10 L1070.17,963.90 L1064.45,965.73 L1058.72,967.56 L1053.00,969.41 L1047.27,971.27 L1041.55,973.15 L1035.83,975.04 L1030.10,976.95 L1024.38,978.87 L1018.65,980.80 Z" fill="#f2f3f3"/>
<g fill="#3d5ba1"><line x1="1002.2" y1="873.25" x2="1377.3" y2="790.05" stroke="#3d5ba1" stroke-width="2.9"/><circle cx="1018.65" cy="908.76" r="6.25"/><circle cx="1131.24" cy="840.05" r="6.25"/><circle cx="1143.74" cy="846.10" r="6.25"/><circle cx="1172.93" cy="766.40" r="6.25"/><circle cx="1177.10" cy="777.94" r="6.25"/><circle cx="1177.10" cy="861.49" r="6.25"/><circle cx="1181.27" cy="830.16" r="6.25"/><circle cx="1202.12" cy="765.02" r="6.25"/><circle cx="1202.12" cy="898.59" r="6.25"/><circle cx="1222.97" cy="811.74" r="6.25"/><circle cx="1235.48" cy="830.16" r="6.25"/><circle cx="1243.82" cy="835.66" r="6.25"/><circle cx="1247.99" cy="815.87" r="6.25"/><circle cx="1247.99" cy="843.35" r="6.25"/><circle cx="1256.33" cy="800.48" r="6.25"/><circle cx="1256.33" cy="843.35" r="6.25"/><circle cx="1256.33" cy="870.29" r="6.25"/><circle cx="1273.01" cy="819.16" r="6.25"/><circle cx="1289.69" cy="766.40" r="6.25"/><circle cx="1298.03" cy="774.64" r="6.25"/><circle cx="1298.03" cy="895.85" r="6.25"/><circle cx="1302.20" cy="690.54" r="6.25"/><circle cx="1306.37" cy="817.79" r="6.25"/><circle cx="1310.54" cy="746.33" r="6.25"/><circle cx="1310.54" cy="868.64" r="6.25"/><circle cx="1314.71" cy="796.08" r="6.25"/><circle cx="1323.04" cy="799.38" r="6.25"/><circle cx="1327.21" cy="796.08" r="6.25"/><circle cx="1339.72" cy="787.83" r="6.25"/><circle cx="1356.40" cy="861.49" r="6.25"/></g>
<g fill="#4c5a98" clip-path="url(#b4)"><line x1="1002.2" y1="873.25" x2="1377.3" y2="790.05" stroke="#4c5a98" stroke-width="2.9"/><circle cx="1018.65" cy="908.76" r="6.25"/><circle cx="1131.24" cy="840.05" r="6.25"/><circle cx="1143.74" cy="846.10" r="6.25"/><circle cx="1172.93" cy="766.40" r="6.25"/><circle cx="1177.10" cy="777.94" r="6.25"/><circle cx="1177.10" cy="861.49" r="6.25"/><circle cx="1181.27" cy="830.16" r="6.25"/><circle cx="1202.12" cy="765.02" r="6.25"/><circle cx="1202.12" cy="898.59" r="6.25"/><circle cx="1222.97" cy="811.74" r="6.25"/><circle cx="1235.48" cy="830.16" r="6.25"/><circle cx="1243.82" cy="835.66" r="6.25"/><circle cx="1247.99" cy="815.87" r="6.25"/><circle cx="1247.99" cy="843.35" r="6.25"/><circle cx="1256.33" cy="800.48" r="6.25"/><circle cx="1256.33" cy="843.35" r="6.25"/><circle cx="1256.33" cy="870.29" r="6.25"/><circle cx="1273.01" cy="819.16" r="6.25"/><circle cx="1289.69" cy="766.40" r="6.25"/><circle cx="1298.03" cy="774.64" r="6.25"/><circle cx="1298.03" cy="895.85" r="6.25"/><circle cx="1302.20" cy="690.54" r="6.25"/><circle cx="1306.37" cy="817.79" r="6.25"/><circle cx="1310.54" cy="746.33" r="6.25"/><circle cx="1310.54" cy="868.64" r="6.25"/><circle cx="1314.71" cy="796.08" r="6.25"/><circle cx="1323.04" cy="799.38" r="6.25"/><circle cx="1327.21" cy="796.08" r="6.25"/><circle cx="1339.72" cy="787.83" r="6.25"/><circle cx="1356.40" cy="861.49" r="6.25"/></g>
</g>
<path d=" M1002.20,968 v-4.6 M1002.20,594.9 v4.6 M1085.56,968 v-4.6 M1085.56,594.9 v4.6 M1168.91,968 v-4.6 M1168.91,594.9 v4.6 M1252.27,968 v-4.6 M1252.27,594.9 v4.6 M1335.62,968 v-4.6 M1335.62,594.9 v4.6 M1002.2,968.00 h4.6 M1377.3,968.00 h-4.6 M1002.2,905.82 h4.6 M1377.3,905.82 h-4.6 M1002.2,843.63 h4.6 M1377.3,843.63 h-4.6 M1002.2,781.45 h4.6 M1377.3,781.45 h-4.6 M1002.2,719.27 h4.6 M1377.3,719.27 h-4.6 M1002.2,657.08 h4.6 M1377.3,657.08 h-4.6 M1002.2,594.90 h4.6 M1377.3,594.90 h-4.6" fill="none" stroke="#202020" stroke-width="1.8"/>
<path d="M1002.2,594.9 H1377.3 V968 H1002.2 Z" fill="none" stroke="#202020" stroke-width="1.8" stroke-linejoin="miter"/>
<text transform="translate(992,977.5) scale(1,1.04)" font-size="26.7" text-anchor="end" fill="#262626">0</text>
<text transform="translate(992,915.32) scale(1,1.04)" font-size="26.7" text-anchor="end" fill="#262626">0.5</text>
<text transform="translate(992,853.13) scale(1,1.04)" font-size="26.7" text-anchor="end" fill="#262626">1</text>
<text transform="translate(992,790.95) scale(1,1.04)" font-size="26.7" text-anchor="end" fill="#262626">1.5</text>
<text transform="translate(992,728.77) scale(1,1.04)" font-size="26.7" text-anchor="end" fill="#262626">2</text>
<text transform="translate(992,666.58) scale(1,1.04)" font-size="26.7" text-anchor="end" fill="#262626">2.5</text>
<text transform="translate(992,604.4) scale(1,1.04)" font-size="26.7" text-anchor="end" fill="#262626">3</text>
<text transform="translate(1001.4,1002.4) scale(1,1.04)" font-size="26.7" text-anchor="middle" fill="#262626">20</text>
<text transform="translate(1084.76,1002.4) scale(1,1.04)" font-size="26.7" text-anchor="middle" fill="#262626">40</text>
<text transform="translate(1168.11,1002.4) scale(1,1.04)" font-size="26.7" text-anchor="middle" fill="#262626">60</text>
<text transform="translate(1251.47,1002.4) scale(1,1.04)" font-size="26.7" text-anchor="middle" fill="#262626">80</text>
<text transform="translate(1334.82,1002.4) scale(1,1.04)" font-size="26.7" text-anchor="middle" fill="#262626">100</text>
<text transform="translate(1189.75,1042.4) scale(1.03,1.04)" font-size="33.6" text-anchor="middle" fill="#262626">GMSI</text>
<text transform="translate(941,781.45) rotate(-90) scale(1.03,1.04)" font-size="33.6" text-anchor="middle" fill="#262626">SDA</text>
<text transform="translate(1189.95,575.2) scale(1.03,1.04)" font-size="44.6" font-weight="bold" text-anchor="middle" fill="#000">Random</text>
<text transform="translate(1015.6,624.8) scale(1.02,1.04)" font-size="22.6" fill="#000">r(28)=.34; p=.067</text>
<clipPath id="c5"><rect x="647.2" y="1161.7" width="727.9" height="735.6"/></clipPath>
<clipPath id="b5"><path d="M679.53,1488.21 L690.63,1486.41 L701.73,1484.58 L712.84,1482.72 L723.94,1480.84 L735.05,1478.93 L746.15,1476.99 L757.26,1475.03 L768.36,1473.04 L779.47,1471.01 L790.57,1468.96 L801.68,1466.88 L812.78,1464.77 L823.89,1462.63 L834.99,1460.46 L846.09,1458.26 L857.20,1456.02 L868.30,1453.75 L879.41,1451.45 L890.51,1449.12 L901.62,1446.75 L912.72,1444.35 L923.83,1441.92 L934.93,1439.45 L946.04,1436.94 L957.14,1434.40 L968.24,1431.83 L979.35,1429.22 L990.45,1426.57 L1001.56,1423.89 L1012.66,1421.17 L1023.77,1418.42 L1034.87,1415.62 L1045.98,1412.79 L1057.08,1409.92 L1068.19,1407.02 L1079.29,1404.08 L1090.39,1401.10 L1101.50,1398.08 L1112.60,1395.02 L1123.71,1391.93 L1134.81,1388.80 L1145.92,1385.63 L1157.02,1382.42 L1168.13,1379.18 L1179.23,1375.89 L1190.34,1372.57 L1201.44,1369.22 L1212.54,1365.82 L1223.65,1362.39 L1234.75,1358.92 L1245.86,1355.41 L1256.96,1351.87 L1268.07,1348.29 L1279.17,1344.68 L1290.28,1341.03 L1301.38,1337.34 L1312.49,1333.62 L1323.59,1329.86 L1334.69,1326.07 L1334.69,1722.78 L1323.59,1725.22 L1312.49,1727.68 L1301.38,1730.18 L1290.28,1732.72 L1279.17,1735.29 L1268.07,1737.90 L1256.96,1740.54 L1245.86,1743.22 L1234.75,1745.94 L1223.65,1748.70 L1212.54,1751.49 L1201.44,1754.31 L1190.34,1757.18 L1179.23,1760.08 L1168.13,1763.02 L1157.02,1766.00 L1145.92,1769.01 L1134.81,1772.07 L1123.71,1775.16 L1112.60,1778.29 L1101.50,1781.45 L1090.39,1784.66 L1079.29,1787.90 L1068.19,1791.18 L1057.08,1794.50 L1045.98,1797.85 L1034.87,1801.24 L1023.77,1804.67 L1012.66,1808.14 L1001.56,1811.64 L990.45,1815.18 L979.35,1818.76 L968.24,1822.37 L957.14,1826.02 L946.04,1829.70 L934.93,1833.42 L923.83,1837.17 L912.72,1840.96 L901.62,1844.78 L890.51,1848.64 L879.41,1852.53 L868.30,1856.45 L857.20,1860.41 L846.09,1864.39 L834.99,1868.41 L823.89,1872.46 L812.78,1876.54 L801.68,1880.66 L790.57,1884.80 L779.47,1888.97 L768.36,1893.17 L757.26,1897.40 L746.15,1901.66 L735.05,1905.94 L723.94,1910.26 L712.84,1914.60 L701.73,1918.96 L690.63,1923.35 L679.53,1927.77 Z"/></clipPath>
<g clip-path="url(#c5)">
<path d="M679.53,1488.21 L690.63,1486.41 L701.73,1484.58 L712.84,1482.72 L723.94,1480.84 L735.05,1478.93 L746.15,1476.99 L757.26,1475.03 L768.36,1473.04 L779.47,1471.01 L790.57,1468.96 L801.68,1466.88 L812.78,1464.77 L823.89,1462.63 L834.99,1460.46 L846.09,1458.26 L857.20,1456.02 L868.30,1453.75 L879.41,1451.45 L890.51,1449.12 L901.62,1446.75 L912.72,1444.35 L923.83,1441.92 L934.93,1439.45 L946.04,1436.94 L957.14,1434.40 L968.24,1431.83 L979.35,1429.22 L990.45,1426.57 L1001.56,1423.89 L1012.66,1421.17 L1023.77,1418.42 L1034.87,1415.62 L1045.98,1412.79 L1057.08,1409.92 L1068.19,1407.02 L1079.29,1404.08 L1090.39,1401.10 L1101.50,1398.08 L1112.60,1395.02 L1123.71,1391.93 L1134.81,1388.80 L1145.92,1385.63 L1157.02,1382.42 L1168.13,1379.18 L1179.23,1375.89 L1190.34,1372.57 L1201.44,1369.22 L1212.54,1365.82 L1223.65,1362.39 L1234.75,1358.92 L1245.86,1355.41 L1256.96,1351.87 L1268.07,1348.29 L1279.17,1344.68 L1290.28,1341.03 L1301.38,1337.34 L1312.49,1333.62 L1323.59,1329.86 L1334.69,1326.07 L1334.69,1722.78 L1323.59,1725.22 L1312.49,1727.68 L1301.38,1730.18 L1290.28,1732.72 L1279.17,1735.29 L1268.07,1737.90 L1256.96,1740.54 L1245.86,1743.22 L1234.75,1745.94 L1223.65,1748.70 L1212.54,1751.49 L1201.44,1754.31 L1190.34,1757.18 L1179.23,1760.08 L1168.13,1763.02 L1157.02,1766.00 L1145.92,1769.01 L1134.81,1772.07 L1123.71,1775.16 L1112.60,1778.29 L1101.50,1781.45 L1090.39,1784.66 L1079.29,1787.90 L1068.19,1791.18 L1057.08,1794.50 L1045.98,1797.85 L1034.87,1801.24 L1023.77,1804.67 L1012.66,1808.14 L1001.56,1811.64 L990.45,1815.18 L979.35,1818.76 L968.24,1822.37 L957.14,1826.02 L946.04,1829.70 L934.93,1833.42 L923.83,1837.17 L912.72,1840.96 L901.62,1844.78 L890.51,1848.64 L879.41,1852.53 L868.30,1856.45 L857.20,1860.41 L846.09,1864.39 L834.99,1868.41 L823.89,1872.46 L812.78,1876.54 L801.68,1880.66 L790.57,1884.80 L779.47,1888.97 L768.36,1893.17 L757.26,1897.40 L746.15,1901.66 L735.05,1905.94 L723.94,1910.26 L712.84,1914.60 L701.73,1918.96 L690.63,1923.35 L679.53,1927.77 Z" fill="#f2f3f3"/>
<g fill="#4d4d4d"><line x1="647.2" y1="1717.05" x2="1375.1" y2="1513.11" stroke="#4d4d4d" stroke-width="2.9"/><circle cx="679.53" cy="1769.80" r="6.8"/><circle cx="897.92" cy="1587.60" r="6.8"/><circle cx="922.18" cy="1646.60" r="6.8"/><circle cx="978.80" cy="1592.10" r="6.8"/><circle cx="986.89" cy="1511.50" r="6.8"/><circle cx="986.89" cy="1701.30" r="6.8"/><circle cx="994.98" cy="1552.70" r="6.8"/><circle cx="1035.42" cy="1408.40" r="6.8"/><circle cx="1035.42" cy="1778.60" r="6.8"/><circle cx="1075.86" cy="1589.00" r="6.8"/><circle cx="1100.13" cy="1666.40" r="6.8"/><circle cx="1116.31" cy="1680.20" r="6.8"/><circle cx="1124.39" cy="1590.50" r="6.8"/><circle cx="1124.39" cy="1613.20" r="6.8"/><circle cx="1140.57" cy="1536.00" r="6.8"/><circle cx="1140.57" cy="1614.20" r="6.8"/><circle cx="1140.57" cy="1618.10" r="6.8"/><circle cx="1172.92" cy="1639.00" r="6.8"/><circle cx="1205.28" cy="1516.20" r="6.8"/><circle cx="1221.46" cy="1434.60" r="6.8"/><circle cx="1221.46" cy="1719.80" r="6.8"/><circle cx="1229.54" cy="1391.80" r="6.8"/><circle cx="1237.63" cy="1391.80" r="6.8"/><circle cx="1245.72" cy="1491.90" r="6.8"/><circle cx="1245.72" cy="1599.40" r="6.8"/><circle cx="1253.81" cy="1601.20" r="6.8"/><circle cx="1269.99" cy="1578.00" r="6.8"/><circle cx="1278.08" cy="1590.50" r="6.8"/><circle cx="1302.34" cy="1516.20" r="6.8"/><circle cx="1334.69" cy="1583.00" r="6.8"/></g>
<g fill="#727377" clip-path="url(#b5)"><line x1="647.2" y1="1717.05" x2="1375.1" y2="1513.11" stroke="#727377" stroke-width="2.9"/><circle cx="679.53" cy="1769.80" r="6.8"/><circle cx="897.92" cy="1587.60" r="6.8"/><circle cx="922.18" cy="1646.60" r="6.8"/><circle cx="978.80" cy="1592.10" r="6.8"/><circle cx="986.89" cy="1511.50" r="6.8"/><circle cx="986.89" cy="1701.30" r="6.8"/><circle cx="994.98" cy="1552.70" r="6.8"/><circle cx="1035.42" cy="1408.40" r="6.8"/><circle cx="1035.42" cy="1778.60" r="6.8"/><circle cx="1075.86" cy="1589.00" r="6.8"/><circle cx="1100.13" cy="1666.40" r="6.8"/><circle cx="1116.31" cy="1680.20" r="6.8"/><circle cx="1124.39" cy="1590.50" r="6.8"/><circle cx="1124.39" cy="1613.20" r="6.8"/><circle cx="1140.57" cy="1536.00" r="6.8"/><circle cx="1140.57" cy="1614.20" r="6.8"/><circle cx="1140.57" cy="1618.10" r="6.8"/><circle cx="1172.92" cy="1639.00" r="6.8"/><circle cx="1205.28" cy="1516.20" r="6.8"/><circle cx="1221.46" cy="1434.60" r="6.8"/><circle cx="1221.46" cy="1719.80" r="6.8"/><circle cx="1229.54" cy="1391.80" r="6.8"/><circle cx="1237.63" cy="1391.80" r="6.8"/><circle cx="1245.72" cy="1491.90" r="6.8"/><circle cx="1245.72" cy="1599.40" r="6.8"/><circle cx="1253.81" cy="1601.20" r="6.8"/><circle cx="1269.99" cy="1578.00" r="6.8"/><circle cx="1278.08" cy="1590.50" r="6.8"/><circle cx="1302.34" cy="1516.20" r="6.8"/><circle cx="1334.69" cy="1583.00" r="6.8"/></g>
</g>
<path d=" M647.20,1897.3 v-8.6 M647.20,1161.7 v8.6 M808.96,1897.3 v-8.6 M808.96,1161.7 v8.6 M970.71,1897.3 v-8.6 M970.71,1161.7 v8.6 M1132.47,1897.3 v-8.6 M1132.47,1161.7 v8.6 M1294.22,1897.3 v-8.6 M1294.22,1161.7 v8.6 M647.2,1897.30 h8.6 M1375.1,1897.30 h-8.6 M647.2,1774.70 h8.6 M1375.1,1774.70 h-8.6 M647.2,1652.10 h8.6 M1375.1,1652.10 h-8.6 M647.2,1529.50 h8.6 M1375.1,1529.50 h-8.6 M647.2,1406.90 h8.6 M1375.1,1406.90 h-8.6 M647.2,1284.30 h8.6 M1375.1,1284.30 h-8.6 M647.2,1161.70 h8.6 M1375.1,1161.70 h-8.6" fill="none" stroke="#202020" stroke-width="1.9"/>
<path d="M647.2,1161.7 H1375.1 V1897.3 H647.2 Z" fill="none" stroke="#202020" stroke-width="1.9" stroke-linejoin="miter"/>
<text transform="translate(632.8,1913.7) scale(1.02,1.02)" font-size="47.8" text-anchor="end" fill="#262626">0</text>
<text transform="translate(632.8,1791.1) scale(1.02,1.02)" font-size="47.8" text-anchor="end" fill="#262626">0.5</text>
<text transform="translate(632.8,1668.5) scale(1.02,1.02)" font-size="47.8" text-anchor="end" fill="#262626">1</text>
<text transform="translate(632.8,1545.9) scale(1.02,1.02)" font-size="47.8" text-anchor="end" fill="#262626">1.5</text>
<text transform="translate(632.8,1423.3) scale(1.02,1.02)" font-size="47.8" text-anchor="end" fill="#262626">2</text>
<text transform="translate(632.8,1300.7) scale(1.02,1.02)" font-size="47.8" text-anchor="end" fill="#262626">2.5</text>
<text transform="translate(632.8,1178.1) scale(1.02,1.02)" font-size="47.8" text-anchor="end" fill="#262626">3</text>
<text transform="translate(646.4,1956.4) scale(1.02,1.02)" font-size="47.8" text-anchor="middle" fill="#262626">20</text>
<text transform="translate(808.16,1956.4) scale(1.02,1.02)" font-size="47.8" text-anchor="middle" fill="#262626">40</text>
<text transform="translate(969.91,1956.4) scale(1.02,1.02)" font-size="47.8" text-anchor="middle" fill="#262626">60</text>
<text transform="translate(1131.67,1956.4) scale(1.02,1.02)" font-size="47.8" text-anchor="middle" fill="#262626">80</text>
<text transform="translate(1293.42,1956.4) scale(1.02,1.02)" font-size="47.8" text-anchor="middle" fill="#262626">100</text>
<text transform="translate(1011.15,2021.9) scale(1.01,1.04)" font-size="55.4" text-anchor="middle" fill="#262626">GMSI</text>
<text transform="translate(547,1529.5) rotate(-90) scale(1.03,1.04)" font-size="55.4" text-anchor="middle" fill="#262626">SDA</text>
<text transform="translate(1009.95,1140.7) scale(1.02,1.04)" font-size="47.6" font-weight="bold" text-anchor="middle" fill="#000">Average</text>
<text transform="translate(667.9,1193.3) scale(1.02,1.04)" font-size="22.6" fill="#000">r(28)=.41; p=.025</text>
<g>
<rect x="108.9" y="143.00" width="14.41" height="31.09" fill="#00c3bd"/>
<rect x="108.9" y="174.09" width="14.41" height="31.09" fill="#00c3bd"/>
<rect x="108.9" y="205.18" width="57.64" height="31.09" fill="#00c3bd"/>
<rect x="108.9" y="236.27" width="72.05" height="31.09" fill="#00c3bd"/>
<rect x="108.9" y="267.36" width="115.28" height="31.09" fill="#00c3bd"/>
<rect x="108.9" y="298.45" width="72.05" height="31.09" fill="#00c3bd"/>
<rect x="108.9" y="329.54" width="72.05" height="31.09" fill="#00c3bd"/>
<rect x="108.9" y="360.63" width="14.41" height="31.09" fill="#00c3bd"/>
<path d=" M108.9,143.00 H123.31 V174.09 H108.9 M108.9,174.09 H123.31 V205.18 H108.9 M108.9,205.18 H166.54 V236.27 H108.9 M108.9,236.27 H180.95 V267.36 H108.9 M108.9,267.36 H224.18 V298.45 H108.9 M108.9,298.45 H180.95 V329.54 H108.9 M108.9,329.54 H180.95 V360.63 H108.9 M108.9,360.63 H123.31 V391.72 H108.9" fill="none" stroke="#000" stroke-width="1.2"/>
</g>
<g>
<rect x="790.5" y="74.70" width="12.79" height="31.08" fill="#00854e"/>
<rect x="790.5" y="105.78" width="12.79" height="31.08" fill="#00854e"/>
<line x1="790.8" y1="136.86" x2="790.8" y2="167.94" stroke="#000" stroke-width="0.9"/>
<rect x="790.5" y="167.94" width="12.79" height="31.08" fill="#00854e"/>
<rect x="790.5" y="199.02" width="51.16" height="31.08" fill="#00854e"/>
<rect x="790.5" y="230.10" width="25.58" height="31.08" fill="#00854e"/>
<rect x="790.5" y="261.18" width="51.16" height="31.08" fill="#00854e"/>
<rect x="790.5" y="292.26" width="115.11" height="31.08" fill="#00854e"/>
<rect x="790.5" y="323.34" width="63.95" height="31.08" fill="#00854e"/>
<rect x="790.5" y="354.42" width="25.58" height="31.08" fill="#00854e"/>
<rect x="790.5" y="385.50" width="12.79" height="31.08" fill="#00854e"/>
<path d=" M790.5,74.70 H803.29 V105.78 H790.5 M790.5,105.78 H803.29 V136.86 H790.5 M790.5,167.94 H803.29 V199.02 H790.5 M790.5,199.02 H841.66 V230.10 H790.5 M790.5,230.10 H816.08 V261.18 H790.5 M790.5,261.18 H841.66 V292.26 H790.5 M790.5,292.26 H905.61 V323.34 H790.5 M790.5,323.34 H854.45 V354.42 H790.5 M790.5,354.42 H816.08 V385.50 H790.5 M790.5,385.50 H803.29 V416.58 H790.5" fill="none" stroke="#000" stroke-width="1.2"/>
</g>
<g>
<rect x="106.6" y="628.30" width="16.43" height="28.60" fill="#c6c348"/>
<rect x="106.6" y="656.90" width="16.43" height="28.60" fill="#c6c348"/>
<rect x="106.6" y="685.50" width="49.29" height="28.60" fill="#c6c348"/>
<line x1="106.9" y1="714.10" x2="106.9" y2="742.70" stroke="#000" stroke-width="0.9"/>
<rect x="106.6" y="742.70" width="65.72" height="28.60" fill="#c6c348"/>
<rect x="106.6" y="771.30" width="65.72" height="28.60" fill="#c6c348"/>
<rect x="106.6" y="799.90" width="115.01" height="28.60" fill="#c6c348"/>
<rect x="106.6" y="828.50" width="82.15" height="28.60" fill="#c6c348"/>
<rect x="106.6" y="857.10" width="49.29" height="28.60" fill="#c6c348"/>
<rect x="106.6" y="885.70" width="16.43" height="28.60" fill="#c6c348"/>
<rect x="106.6" y="914.30" width="16.43" height="28.60" fill="#c6c348"/>
<path d=" M106.6,628.30 H123.03 V656.90 H106.6 M106.6,656.90 H123.03 V685.50 H106.6 M106.6,685.50 H155.89 V714.10 H106.6 M106.6,742.70 H172.32 V771.30 H106.6 M106.6,771.30 H172.32 V799.90 H106.6 M106.6,799.90 H221.61 V828.50 H106.6 M106.6,828.50 H188.75 V857.10 H106.6 M106.6,857.10 H155.89 V885.70 H106.6 M106.6,885.70 H123.03 V914.30 H106.6 M106.6,914.30 H123.03 V942.90 H106.6" fill="none" stroke="#000" stroke-width="1.2"/>
</g>
<g>
<rect x="787.9" y="689.40" width="16.43" height="28.63" fill="#3d5ba1"/>
<line x1="788.2" y1="718.03" x2="788.2" y2="746.66" stroke="#000" stroke-width="0.9"/>
<rect x="787.9" y="746.66" width="65.72" height="28.63" fill="#3d5ba1"/>
<rect x="787.9" y="775.29" width="115.01" height="28.63" fill="#3d5ba1"/>
<rect x="787.9" y="803.92" width="98.58" height="28.63" fill="#3d5ba1"/>
<rect x="787.9" y="832.55" width="82.15" height="28.63" fill="#3d5ba1"/>
<rect x="787.9" y="861.18" width="65.72" height="28.63" fill="#3d5ba1"/>
<rect x="787.9" y="889.81" width="49.29" height="28.63" fill="#3d5ba1"/>
<path d=" M787.9,689.40 H804.33 V718.03 H787.9 M787.9,746.66 H853.62 V775.29 H787.9 M787.9,775.29 H902.91 V803.92 H787.9 M787.9,803.92 H886.48 V832.55 H787.9 M787.9,832.55 H870.05 V861.18 H787.9 M787.9,861.18 H853.62 V889.81 H787.9 M787.9,889.81 H837.19 V918.44 H787.9" fill="none" stroke="#000" stroke-width="1.2"/>
</g>
<g>
<rect x="100.9" y="1387.50" width="164.20" height="51.50" fill="#4d4d4d"/>
<line x1="101.2" y1="1439.00" x2="101.2" y2="1490.50" stroke="#000" stroke-width="0.9"/>
<rect x="100.9" y="1490.50" width="205.25" height="51.50" fill="#4d4d4d"/>
<rect x="100.9" y="1542.00" width="328.40" height="51.50" fill="#4d4d4d"/>
<rect x="100.9" y="1593.50" width="246.30" height="51.50" fill="#4d4d4d"/>
<rect x="100.9" y="1645.00" width="123.15" height="51.50" fill="#4d4d4d"/>
<rect x="100.9" y="1696.50" width="82.10" height="51.50" fill="#4d4d4d"/>
<rect x="100.9" y="1748.00" width="82.10" height="51.50" fill="#4d4d4d"/>
<path d=" M100.9,1387.50 H265.10 V1439.00 H100.9 M100.9,1490.50 H306.15 V1542.00 H100.9 M100.9,1542.00 H429.30 V1593.50 H100.9 M100.9,1593.50 H347.20 V1645.00 H100.9 M100.9,1645.00 H224.05 V1696.50 H100.9 M100.9,1696.50 H183.00 V1748.00 H100.9 M100.9,1748.00 H183.00 V1799.50 H100.9" fill="none" stroke="#000" stroke-width="1.2"/>
</g>
<g>
<rect x="655.20" y="2268.10" width="62.30" height="30.70" fill="#4d4d4d"/>
<rect x="842.10" y="2268.10" width="62.30" height="30.70" fill="#4d4d4d"/>
<rect x="904.40" y="2268.10" width="62.30" height="30.70" fill="#4d4d4d"/>
<rect x="966.70" y="2176.00" width="62.30" height="122.80" fill="#4d4d4d"/>
<rect x="1029.00" y="2206.70" width="62.30" height="92.10" fill="#4d4d4d"/>
<rect x="1091.30" y="2083.90" width="62.30" height="214.90" fill="#4d4d4d"/>
<rect x="1153.60" y="2237.40" width="62.30" height="61.40" fill="#4d4d4d"/>
<rect x="1215.90" y="2053.20" width="62.30" height="245.60" fill="#4d4d4d"/>
<rect x="1278.20" y="2206.70" width="62.30" height="92.10" fill="#4d4d4d"/>
<rect x="655.20" y="2298.8" width="685.30" height="1.5" fill="#b0b0b0"/>
<rect x="717.50" y="2298.4" width="62.30" height="2" fill="#000"/>
<rect x="779.80" y="2298.4" width="62.30" height="2" fill="#000"/>
<path d=" M655.20,2298.8 V2268.10 H717.50 V2298.8 M842.10,2298.8 V2268.10 H904.40 V2298.8 M904.40,2298.8 V2268.10 H966.70 V2298.8 M966.70,2298.8 V2176.00 H1029.00 V2298.8 M1029.00,2298.8 V2206.70 H1091.30 V2298.8 M1091.30,2298.8 V2083.90 H1153.60 V2298.8 M1153.60,2298.8 V2237.40 H1215.90 V2298.8 M1215.90,2298.8 V2053.20 H1278.20 V2298.8 M1278.20,2298.8 V2206.70 H1340.50 V2298.8" fill="none" stroke="#000" stroke-width="1.2"/>
</g>
</svg>
</body></html>
